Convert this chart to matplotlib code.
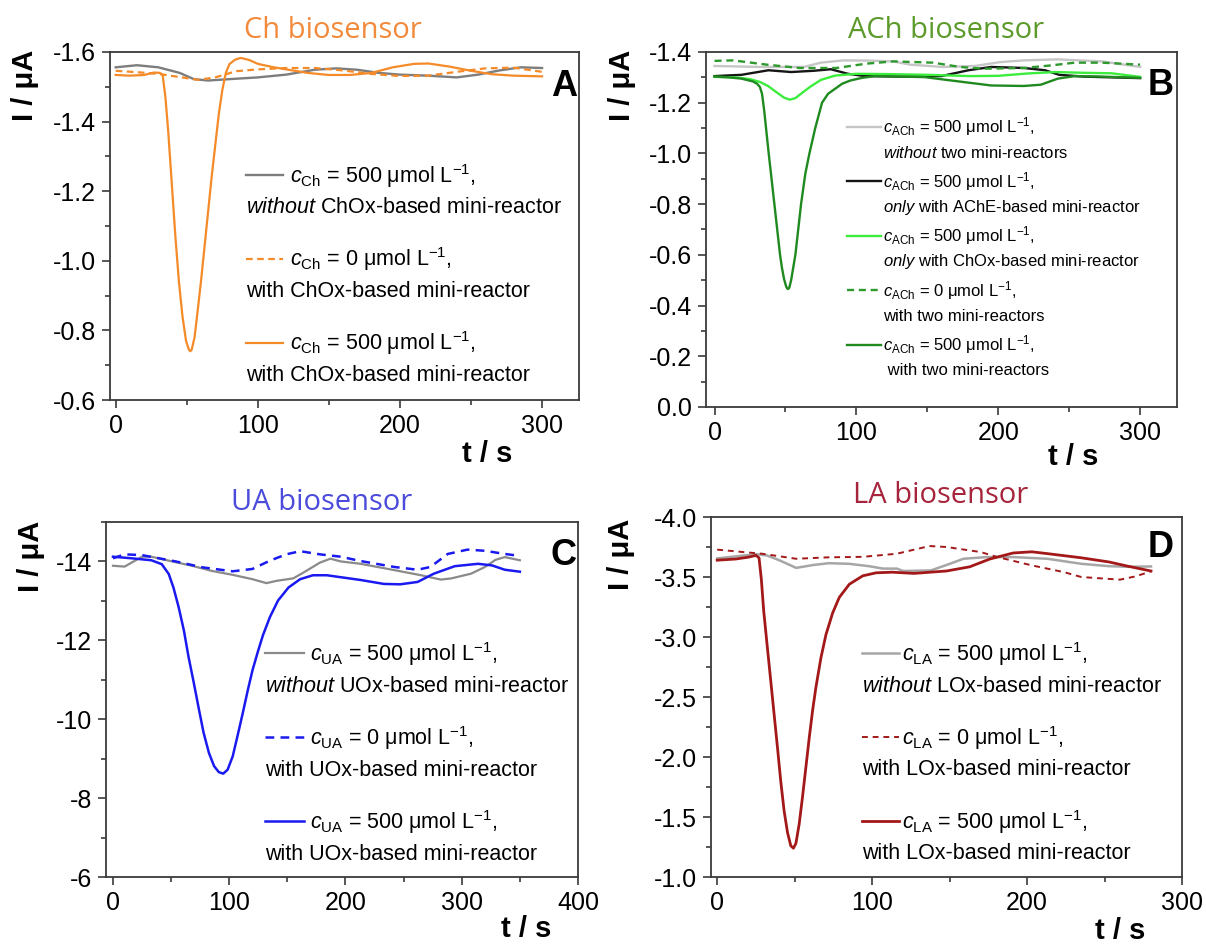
import matplotlib
matplotlib.use('Agg')
import matplotlib.pyplot as plt
from matplotlib.ticker import MultipleLocator, FuncFormatter

plt.rcParams['font.family'] = ['Liberation Sans', 'DejaVu Sans']
plt.rcParams['mathtext.fontset'] = 'custom'
plt.rcParams['mathtext.rm'] = 'Liberation Sans'
plt.rcParams['mathtext.it'] = 'Liberation Sans:italic'
plt.rcParams['mathtext.bf'] = 'Liberation Sans:bold'
plt.rcParams['axes.unicode_minus'] = False

# ---------------- Panel A : Ch biosensor ----------------
tA_without = [0, 15, 30, 45, 55, 65, 80, 100, 120, 140, 155, 170, 185, 200, 220, 240, 255, 270, 285, 300]
iA_without = [-1.556, -1.562, -1.556, -1.540, -1.522, -1.518, -1.522, -1.527, -1.535, -1.549, -1.553,
              -1.549, -1.540, -1.535, -1.532, -1.527, -1.535, -1.547, -1.556, -1.554]
tA_zero = [0, 15, 30, 45, 58, 70, 85, 100, 120, 140, 160, 180, 200, 220, 240, 260, 280, 300]
iA_zero = [-1.546, -1.542, -1.537, -1.528, -1.520, -1.527, -1.545, -1.550, -1.554, -1.554, -1.547,
           -1.537, -1.531, -1.532, -1.543, -1.553, -1.555, -1.543]
tA_with = [0, 10, 20, 27, 31, 33, 35, 37, 39.5, 42, 44.5, 47, 49.5, 51.5, 52.5, 53.5, 55.5, 57.5, 60,
           62.5, 65, 67.5, 70, 72.5, 75, 77.5, 80, 84, 88, 94, 100, 110, 120, 135, 150, 165, 180, 195,
           210, 220, 235, 250, 265, 280, 300]
iA_with = [-1.534, -1.532, -1.534, -1.541, -1.540, -1.535, -1.47, -1.37, -1.22, -1.07, -0.94, -0.84,
           -0.77, -0.745, -0.740, -0.745, -0.78, -0.85, -0.94, -1.04, -1.14, -1.24, -1.33, -1.42, -1.49,
           -1.54, -1.565, -1.578, -1.583, -1.577, -1.566, -1.557, -1.550, -1.540, -1.534, -1.534, -1.540,
           -1.556, -1.566, -1.567, -1.558, -1.546, -1.536, -1.532, -1.530]

# ---------------- Panel B : ACh biosensor ----------------
tB_without = [0, 33, 63, 75, 91, 110, 126, 138, 161, 184, 201, 218, 242, 273, 300]
iB_without = [-1.345, -1.341, -1.341, -1.358, -1.367, -1.366, -1.363, -1.350, -1.341, -1.345, -1.360,
              -1.367, -1.371, -1.363, -1.341]
tB_ache = [0, 19, 38, 54, 70, 82, 94, 106, 130, 160, 179, 195, 218, 233, 243, 260, 273, 300]
iB_ache = [-1.305, -1.310, -1.328, -1.321, -1.326, -1.332, -1.314, -1.305, -1.303, -1.305, -1.328,
           -1.341, -1.337, -1.328, -1.310, -1.303, -1.301, -1.297]
tB_chox = [0, 15, 25, 32, 38, 44, 49, 53, 57, 62, 68, 75, 85, 100, 120, 150, 180, 200, 220, 240, 260,
           280, 300]
iB_chox = [-1.302, -1.300, -1.293, -1.282, -1.265, -1.240, -1.220, -1.212, -1.218, -1.240, -1.265,
           -1.290, -1.307, -1.314, -1.313, -1.310, -1.305, -1.306, -1.315, -1.321, -1.318, -1.316, -1.302]
tB_zero = [0, 13, 37, 60, 86, 107, 126, 154, 173, 190, 218, 237, 254, 273, 300]
iB_zero = [-1.365, -1.367, -1.350, -1.337, -1.337, -1.354, -1.363, -1.358, -1.341, -1.334, -1.337,
           -1.347, -1.358, -1.358, -1.350]
tB_two = [0, 10, 19, 27, 30, 32, 33.5, 35, 36.5, 38.2, 40.2, 42.2, 44.2, 46.2, 47.5, 49, 50.5, 51.6,
          52.7, 54, 55.5, 57, 59, 61, 64, 66.9, 71, 75.8, 80, 85, 90, 96, 104, 113, 148, 172, 195, 218,
          230, 242, 254, 273, 300]
iB_two = [-1.303, -1.300, -1.295, -1.284, -1.275, -1.262, -1.235, -1.17, -1.09, -1.00, -0.90, -0.80,
          -0.70, -0.60, -0.55, -0.505, -0.475, -0.465, -0.47, -0.50, -0.55, -0.60, -0.70, -0.80, -0.92,
          -1.00, -1.10, -1.20, -1.235, -1.255, -1.275, -1.288, -1.298, -1.305, -1.301, -1.284, -1.268,
          -1.266, -1.271, -1.295, -1.305, -1.303, -1.298]

# ---------------- Panel C : UA biosensor ----------------
tC_without = [0, 10, 25, 33, 51, 68, 85, 103, 120, 132, 141, 155, 164, 178, 187, 196, 213, 242, 265,
              282, 291, 308, 320, 329, 337, 350]
iC_without = [-13.89, -13.87, -14.12, -14.12, -14.00, -13.89, -13.76, -13.66, -13.55, -13.45, -13.51,
              -13.57, -13.72, -13.97, -14.07, -14.00, -13.94, -13.78, -13.65, -13.54, -13.57, -13.69,
              -13.86, -14.04, -14.11, -14.03]
tC_zero = [0, 10, 25, 54, 77, 103, 120, 135, 149, 161, 178, 196, 213, 242, 262, 273, 288, 305, 320,
           337, 350]
iC_zero = [-14.08, -14.18, -14.16, -14.00, -13.85, -13.75, -13.81, -14.02, -14.18, -14.26, -14.18,
           -14.12, -14.01, -13.86, -13.79, -13.86, -14.19, -14.30, -14.27, -14.19, -14.14]
tC_with = [0, 16, 33, 42, 48, 52, 56.5, 61, 65, 69.6, 74, 78, 82.6, 87, 91, 94.8, 98.6, 103, 107,
           111.6, 116, 120, 124.6, 129, 135, 142, 151, 161, 172, 184, 196, 213, 233, 247, 262, 276,
           294, 314, 326, 337, 350]
iC_with = [-14.12, -14.08, -14.03, -13.93, -13.68, -13.34, -12.84, -12.25, -11.58, -10.91, -10.24,
           -9.65, -9.14, -8.81, -8.66, -8.62, -8.72, -9.06, -9.56, -10.15, -10.74, -11.24, -11.71,
           -12.13, -12.59, -13.01, -13.34, -13.55, -13.65, -13.65, -13.60, -13.53, -13.43, -13.42,
           -13.48, -13.69, -13.88, -13.94, -13.90, -13.79, -13.74]

# ---------------- Panel D : LA biosensor ----------------
tD_without = [0, 25, 32, 40, 51, 62, 72, 85, 98, 107, 116, 120, 138, 148, 159, 174, 191, 213, 235,
              253, 265, 280]
iD_without = [-3.655, -3.690, -3.680, -3.640, -3.576, -3.600, -3.615, -3.610, -3.590, -3.570, -3.570,
              -3.550, -3.555, -3.600, -3.652, -3.666, -3.666, -3.652, -3.610, -3.590, -3.585, -3.588]
tD_zero = [0, 15, 29, 51, 72, 94, 116, 137, 148, 170, 181, 203, 224, 235, 246, 260, 270, 280]
iD_zero = [-3.728, -3.710, -3.694, -3.652, -3.664, -3.668, -3.694, -3.758, -3.750, -3.708, -3.666,
           -3.597, -3.540, -3.500, -3.490, -3.478, -3.505, -3.547]
tD_with = [0, 12, 20, 25, 27, 28.5, 30, 32.4, 34.6, 36.7, 38.9, 41, 43.2, 45.4, 47.5, 49.2, 50.8,
           52.9, 55, 57.2, 59.4, 61.6, 63.7, 67, 70.2, 74.5, 78.8, 85.3, 94, 102.6, 113, 127, 148,
           163, 176, 191, 203, 213, 235, 253, 265, 280]
iD_with = [-3.640, -3.650, -3.665, -3.680, -3.660, -3.480, -3.220, -2.910, -2.630, -2.360, -2.080,
           -1.800, -1.550, -1.370, -1.260, -1.240, -1.280, -1.440, -1.660, -1.910, -2.160, -2.390,
           -2.580, -2.830, -3.020, -3.200, -3.330, -3.440, -3.510, -3.535, -3.540, -3.530, -3.550,
           -3.585, -3.650, -3.700, -3.710, -3.695, -3.660, -3.625, -3.590, -3.550]

W, H = 1206, 947
fig = plt.figure(figsize=(W / 100, H / 100), dpi=100)


def make_axes(l, r, t, b):
    return fig.add_axes([l / W, 1 - b / H, (r - l) / W, (b - t) / H])


def fmt1(v, p):
    s = '%.1f' % v
    return '0.0' if s == '-0.0' else s


def style(ax, xlim, ylim, xmaj, ymaj, ymin, yfmt):
    ax.set_xlim(*xlim)
    ax.set_ylim(*ylim)
    ax.xaxis.set_major_locator(MultipleLocator(xmaj))
    ax.xaxis.set_minor_locator(MultipleLocator(xmaj / 2))
    ax.yaxis.set_major_locator(MultipleLocator(ymaj))
    ax.yaxis.set_minor_locator(MultipleLocator(ymin))
    ax.yaxis.set_major_formatter(FuncFormatter(yfmt))
    ax.xaxis.set_major_formatter(FuncFormatter(lambda v, p: '%d' % v))
    for s in ax.spines.values():
        s.set_color('#3a3a3a')
        s.set_linewidth(1.3)
    ax.tick_params(which='both', direction='out', color='#3a3a3a', width=1.2,
                   labelsize=18, labelcolor='black', top=False, right=False)
    ax.tick_params(which='major', length=6, pad=4)
    ax.tick_params(which='minor', length=3.5)


def fig_text(x, y, s, **kw):
    return fig.text(x / W, 1 - y / H, s, **kw)


legend_specs = []

# ---- A
axA = make_axes(110, 579, 52, 400)
lA1, = axA.plot(tA_without, iA_without, color='#7d7d7d', lw=1.7)
lA2, = axA.plot(tA_zero, iA_zero, color='#F58A28', lw=1.6, ls=(0, (3, 2)))
lA3, = axA.plot(tA_with, iA_with, color='#F58A28', lw=1.6)
style(axA, (-4, 326), (-0.6, -1.6), 100, 0.2, 0.1, fmt1)
legA = axA.legend([lA1, lA2, lA3],
                  [r'$c_{\mathrm{Ch}}$ = 500 μmol L$^{-1}$,',
                   r'$c_{\mathrm{Ch}}$ = 0 μmol L$^{-1}$,',
                   r'$c_{\mathrm{Ch}}$ = 500 μmol L$^{-1}$,'],
                  loc='upper left', bbox_to_anchor=(0.29, 0.685), frameon=False, borderpad=0,
                  borderaxespad=0, handlelength=1.7, handletextpad=0.35, labelspacing=2.6,
                  fontsize=15.5)
legend_specs.append((legA, [r'$\mathit{without}$ ChOx-based mini-reactor',
                            'with ChOx-based mini-reactor',
                            'with ChOx-based mini-reactor'], True, 32, 15.5, ['Liberation Sans']))

# ---- B
axB = make_axes(706, 1177, 52, 407)
lB1, = axB.plot(tB_without, iB_without, color='#c6c6c6', lw=1.7)
lB2, = axB.plot(tB_ache, iB_ache, color='#151515', lw=1.7)
lB3, = axB.plot(tB_chox, iB_chox, color='#3ded3d', lw=1.7)
lB4, = axB.plot(tB_zero, iB_zero, color='#2e9a2e', lw=1.7, ls=(0, (3, 2)))
lB5, = axB.plot(tB_two, iB_two, color='#1f8a1f', lw=1.7)
style(axB, (-6, 326), (0.0, -1.4), 100, 0.2, 0.1, fmt1)
fontB = ['Liberation Sans']
legB = axB.legend([lB1, lB2, lB3, lB4, lB5],
                  [r'$c_{\mathrm{ACh}}$ = 500 μmol L$^{-1}$,',
                   r'$c_{\mathrm{ACh}}$ = 500 μmol L$^{-1}$,',
                   r'$c_{\mathrm{ACh}}$ = 500 μmol L$^{-1}$,',
                   r'$c_{\mathrm{ACh}}$ = 0 μmol L$^{-1}$,',
                   r'$c_{\mathrm{ACh}}$ = 500 μmol L$^{-1}$,'],
                  loc='upper left', bbox_to_anchor=(0.30, 0.822), frameon=False, borderpad=0,
                  borderaxespad=0, handlelength=2.0, handletextpad=0.15, labelspacing=1.9,
                  prop={'family': fontB, 'size': 12})
legend_specs.append((legB, [r'$\mathit{without}$ two mini-reactors',
                            r'$\mathit{only}$ with AChE-based mini-reactor',
                            r'$\mathit{only}$ with ChOx-based mini-reactor',
                            'with two mini-reactors',
                            ' with two mini-reactors'], False, 26, 12, fontB))

# ---- C
axC = make_axes(106, 578, 522, 877)
lC1, = axC.plot(tC_without, iC_without, color='#8a8a8a', lw=1.6)
lC2, = axC.plot(tC_zero, iC_zero, color='#1a1af0', lw=1.8, ls=(0, (3.5, 2.5)))
lC3, = axC.plot(tC_with, iC_with, color='#1a1af0', lw=1.8)
style(axC, (-6, 400), (-6, -15), 100, 2, 1, lambda v, p: '%d' % v)
legC = axC.legend([lC1, lC2, lC3],
                  [r'$c_{\mathrm{UA}}$ = 500 μmol L$^{-1}$,',
                   r'$c_{\mathrm{UA}}$ = 0 μmol L$^{-1}$,',
                   r'$c_{\mathrm{UA}}$ = 500 μmol L$^{-1}$,'],
                  loc='upper left', bbox_to_anchor=(0.337, 0.668), frameon=False, borderpad=0,
                  borderaxespad=0, handlelength=1.8, handletextpad=0.3, labelspacing=2.6,
                  fontsize=15.5)
legend_specs.append((legC, [r'$\mathit{without}$ UOx-based mini-reactor',
                            'with UOx-based mini-reactor',
                            'with UOx-based mini-reactor'], True, 33, 15.5, ['Liberation Sans']))

# ---- D
axD = make_axes(711, 1182, 517, 877)
lD1, = axD.plot(tD_without, iD_without, color='#a6a6a6', lw=1.8)
lD2, = axD.plot(tD_zero, iD_zero, color='#a31818', lw=1.4, ls=(0, (3, 2.5)))
lD3, = axD.plot(tD_with, iD_with, color='#a31818', lw=2.0)
style(axD, (-4, 300), (-1.0, -4.0), 100, 0.5, 0.25, fmt1)
legD = axD.legend([lD1, lD2, lD3],
                  [r'$c_{\mathrm{LA}}$ = 500 μmol L$^{-1}$,',
                   r'$c_{\mathrm{LA}}$ = 0 μmol L$^{-1}$,',
                   r'$c_{\mathrm{LA}}$ = 500 μmol L$^{-1}$,'],
                  loc='upper left', bbox_to_anchor=(0.321, 0.658), frameon=False, borderpad=0,
                  borderaxespad=0, handlelength=1.7, handletextpad=0.15, labelspacing=2.6,
                  fontsize=15.5)
legend_specs.append((legD, [r'$\mathit{without}$ LOx-based mini-reactor',
                            'with LOx-based mini-reactor',
                            'with LOx-based mini-reactor'], True, 32, 15.5, ['Liberation Sans']))

# ---- titles, labels, letters
title_font = ['Open Sans', 'DejaVu Sans']
fig_text(333, 30, 'Ch biosensor', color='#F28A3C', fontsize=21, family=title_font, ha='center', va='center')
fig_text(946, 30, 'ACh biosensor', color='#5c9a2a', fontsize=21, family=title_font, ha='center', va='center')
fig_text(322, 502, 'UA biosensor', color='#4b4bdc', fontsize=21, family=title_font, ha='center', va='center')
fig_text(941, 495, 'LA biosensor', color='#a6243c', fontsize=21, family=title_font, ha='center', va='center')

for (x, y) in [(25, 85), (622, 85), (31, 556), (621, 554)]:
    fig_text(x, y, 'I / μA', fontsize=21, fontweight='bold', rotation=90, ha='center', va='center')
for (x, y) in [(487, 454), (1073, 457), (526, 929), (1120, 931)]:
    fig_text(x, y, 't / s', fontsize=21, fontweight='bold', ha='center', va='center')
for (x, y, s) in [(577, 86, 'A'), (1174, 85, 'B'), (577, 555, 'C'), (1174, 547, 'D')]:
    fig_text(x, y, s, fontsize=26, fontweight='bold', ha='right', va='center')

# ---- second lines of legend entries
fig.canvas.draw()
renderer = fig.canvas.get_renderer()
for leg, seconds, under_handle, gap, fs, fam in legend_specs:
    for txt, hnd, second in zip(leg.get_texts(), leg.legend_handles, seconds):
        tb = txt.get_window_extent(renderer)
        hb = hnd.get_window_extent(renderer)
        x0 = hb.x0 if under_handle else tb.x0
        yc = (tb.y0 + tb.y1) / 2 - gap
        fig.text(x0 / W, yc / H, second, fontsize=fs, family=fam, ha='left', va='center')

fig.savefig('out.png', dpi=100)
